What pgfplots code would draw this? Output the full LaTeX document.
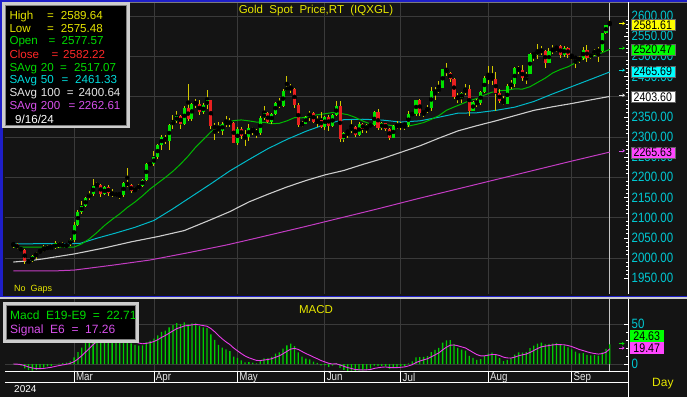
\documentclass[border=0pt]{standalone}
\usepackage{fontspec}
\setmainfont{Liberation Sans}
\newfontfamily\axisfont[FakeStretch=0.85]{Liberation Sans}
\usepackage{pgfplots}
\usepackage{pgfplotstable}
\pgfplotsset{compat=1.18}
\usetikzlibrary{arrows.meta}

\definecolor{bg}{RGB}{20,20,20}
\definecolor{gridc}{RGB}{58,58,58}
\definecolor{frameblue}{RGB}{30,30,200}
\definecolor{framegray}{RGB}{205,205,205}
\definecolor{cup}{RGB}{0,225,0}
\definecolor{cdn}{RGB}{232,32,32}
\definecolor{wick}{RGB}{210,200,0}
\definecolor{ma20}{RGB}{0,185,0}
\definecolor{ma50}{RGB}{0,185,200}
\definecolor{ma100}{RGB}{205,205,205}
\definecolor{ma200}{RGB}{195,60,195}
\definecolor{lblcyan}{RGB}{0,200,210}
\definecolor{txtyellow}{RGB}{230,230,0}
\definecolor{txtgreen}{RGB}{0,220,0}
\definecolor{txtred}{RGB}{255,40,40}
\definecolor{txtcyan}{RGB}{0,220,220}
\definecolor{txtgray}{RGB}{230,230,230}
\definecolor{txtmag}{RGB}{215,80,235}
\definecolor{macdgreen}{RGB}{0,205,0}
\definecolor{sigmag}{RGB}{235,60,235}
\definecolor{boxgreen}{RGB}{0,255,0}
\definecolor{boxcyan}{RGB}{0,255,255}
\definecolor{boxyellow}{RGB}{255,255,0}
\definecolor{boxmag}{RGB}{255,70,255}

\pgfplotstableread{
i O H L C
-16 2035 2040 2025 2034
-15 2034 2038 2022 2024
-14 2024 2027 2017 2020
-13 2020 2023 1984 1992
-12 1992 1996 1985 1992
-11 1992 2008 1990 2004
-10 2004 2016 1998 2013
-9 2013 2023 2012 2018
-8 2018 2031 2016 2024
-7 2024 2031 2019 2026
-6 2026 2035 2021 2024
-5 2024 2041 2022 2036
-4 2036 2039 2026 2031
-3 2031 2040 2025 2030
-2 2030 2036 2024 2034
-1 2034 2050 2030 2044
0 2044 2088 2040 2083
1 2083 2119 2079 2115
2 2115 2141 2110 2128
3 2128 2152 2126 2148
4 2148 2165 2144 2159
5 2159 2195 2154 2179
6 2179 2189 2175 2182
7 2182 2184 2150 2158
8 2158 2178 2156 2175
9 2175 2180 2154 2162
10 2162 2170 2150 2156
11 2156 2164 2150 2160
12 2160 2162 2146 2157
13 2157 2188 2152 2186
14 2186 2223 2175 2181
15 2181 2183 2160 2165
16 2165 2176 2164 2171
17 2171 2184 2169 2179
18 2179 2197 2175 2194
19 2194 2236 2191 2233
20 2233 2236 2230 2233
21 2233 2265 2229 2250
22 2250 2282 2245 2280
23 2280 2305 2268 2300
24 2300 2305 2282 2290
25 2290 2331 2268 2330
26 2330 2354 2320 2339
27 2339 2365 2335 2352
28 2352 2354 2319 2333
29 2333 2378 2329 2372
30 2372 2431 2340 2344
31 2344 2385 2340 2383
32 2383 2395 2373 2383
33 2383 2392 2354 2361
34 2361 2385 2356 2379
35 2379 2417 2370 2391
36 2391 2392 2320 2327
37 2327 2335 2292 2322
38 2322 2337 2310 2316
39 2316 2338 2305 2332
40 2332 2352 2325 2337
41 2337 2346 2325 2335
42 2335 2336 2285 2286
43 2286 2326 2280 2320
44 2320 2326 2295 2303
45 2303 2318 2278 2301
46 2301 2331 2290 2323
47 2323 2326 2304 2314
48 2314 2320 2297 2309
49 2309 2351 2306 2346
50 2346 2378 2343 2360
51 2360 2362 2334 2336
52 2336 2360 2333 2358
53 2358 2387 2355 2385
54 2385 2397 2373 2376
55 2376 2418 2375 2414
56 2414 2450 2413 2425
57 2425 2432 2409 2420
58 2420 2421 2373 2379
59 2379 2385 2326 2329
60 2329 2340 2325 2333
61 2333 2352 2332 2350
62 2350 2364 2340 2360
63 2360 2362 2334 2338
64 2338 2351 2324 2343
65 2343 2361 2322 2326
66 2326 2353 2317 2350
67 2350 2355 2315 2327
68 2327 2357 2325 2355
69 2355 2388 2353 2376
70 2376 2388 2287 2294
71 2294 2312 2287 2311
72 2311 2318 2298 2316
73 2316 2342 2311 2324
74 2324 2328 2301 2304
75 2304 2336 2302 2333
76 2333 2334 2311 2319
77 2319 2332 2310 2329
78 2329 2333 2325 2329
79 2329 2365 2327 2361
80 2361 2369 2317 2322
81 2322 2337 2318 2334
82 2334 2335 2316 2320
83 2320 2322 2293 2298
84 2298 2330 2298 2327
85 2327 2339 2319 2326
86 2326 2338 2318 2332
87 2332 2335 2317 2330
88 2330 2365 2326 2356
89 2356 2362 2352 2357
90 2357 2392 2353 2392
91 2392 2393 2353 2359
92 2359 2366 2350 2364
93 2364 2379 2359 2371
94 2371 2424 2365 2415
95 2415 2424 2392 2411
96 2411 2440 2409 2422
97 2422 2469 2421 2469
98 2469 2483 2450 2458
99 2458 2461 2437 2445
100 2445 2446 2393 2400
101 2400 2409 2384 2396
102 2396 2412 2385 2409
103 2409 2431 2404 2419
104 2419 2429 2353 2364
105 2364 2390 2364 2387
106 2387 2393 2375 2384
107 2384 2413 2380 2411
108 2411 2451 2409 2447
109 2447 2477 2431 2446
110 2446 2477 2430 2443
111 2443 2461 2364 2409
112 2409 2420 2384 2390
113 2390 2401 2380 2382
114 2382 2431 2381 2427
115 2427 2441 2418 2431
116 2431 2474 2425 2472
117 2472 2477 2456 2465
118 2465 2478 2440 2447
119 2447 2460 2431 2456
120 2456 2509 2455 2507
121 2507 2510 2489 2504
122 2504 2531 2494 2514
123 2514 2525 2504 2512
124 2512 2515 2470 2484
125 2484 2520 2483 2512
126 2512 2528 2505 2518
127 2518 2525 2510 2525
128 2525 2528 2497 2504
129 2504 2525 2499 2521
130 2521 2524 2497 2503
131 2503 2505 2490 2500
132 2500 2502 2471 2493
133 2493 2500 2484 2495
134 2495 2523 2492 2516
135 2516 2529 2486 2497
136 2497 2507 2494 2506
137 2506 2517 2500 2516
138 2516 2523 2486 2512
139 2512 2559 2511 2558
140 2558 2578 2555 2577
141 2577.57 2589.64 2575.48 2582.22
}\ohlc

\pgfplotstableread{
i v
-16 2027
0 2027
2 2035
4 2047.3
6 2063.1
8 2080.6
10 2095.6
12 2109.4
14 2125.2
16 2138.7
18 2154.1
20 2171.1
22 2185.4
24 2199.6
26 2215
28 2232.6
30 2252.5
32 2274.9
34 2293.6
36 2312.7
38 2325.9
40 2336
42 2340.6
44 2342.3
46 2340
48 2336.9
50 2336.4
52 2332.8
54 2333.9
56 2339.9
58 2348
60 2347.6
62 2352
64 2355
66 2357.6
68 2360.5
70 2358.7
72 2355.4
74 2348.7
76 2339.4
78 2332.3
80 2333.4
82 2330.6
84 2327.8
86 2326.9
88 2327
90 2331
92 2335.8
94 2343.7
96 2352.8
98 2366.2
100 2374.3
102 2381.9
104 2389.8
106 2395.4
108 2404
110 2411
112 2414.8
114 2416
116 2419.5
118 2418.7
120 2424.6
122 2435.3
124 2445.9
126 2458.9
128 2467.4
130 2474.2
132 2483.9
134 2494
136 2499
138 2504.8
140 2513.4
141 2517.1
}\smaA

\pgfplotstableread{
i v
-16 2035
1.5 2036
6 2049
11 2062
16 2076
21 2093
26 2122
31 2153
36 2184
41 2216
46 2244
51 2271
56 2294
61 2314
66 2331
71 2343
76 2344
81 2342
86 2337
91 2340
96 2349
101 2359
106 2360
111 2366
116 2374
121 2388
126 2407
131 2425
136 2443
141 2461.3
}\smaB

\pgfplotstableread{
i v
-16 1990
-12 1993
-8 1998
-4 2004
0 2010
8 2025
15 2040
22 2053
29 2068
36 2095
41 2115
46 2139
51 2158
56 2176
61 2192
66 2206
71 2217
76 2232
81 2246
86 2262
91 2278
96 2297
101 2315
106 2328
111 2340
116 2353
121 2366
126 2375
131 2383
136 2392
141 2400.6
}\smaC

\pgfplotstableread{
i v
-16 1968
-5 1968
0 1970
10 1982
20 1995
30 2013
40 2032
46 2045
60 2076
70 2099
80 2122
90 2146
100 2169
110 2192
120 2215
130 2238
141 2262.6
}\smaD

\pgfplotstableread{
i m s
-16 0.1 0.0
-15 -0.8 -0.2
-14 -1.9 -0.7
-13 -5.4 -2.1
-12 -7.8 -3.7
-11 -8.2 -5.0
-10 -7.4 -5.7
-9 -6.2 -5.8
-8 -4.6 -5.5
-7 -3.1 -4.8
-6 -2.2 -4.1
-5 -0.3 -3.0
-4 0.6 -2.0
-3 1.1 -1.1
-2 1.8 -0.3
-1 3.3 0.8
0 8.2 2.9
1 14.8 6.3
2 20.5 10.4
3 26.2 14.9
4 30.9 19.5
5 35.6 24.1
6 38.6 28.2
7 37.6 30.9
8 37.8 32.9
9 35.9 33.7
10 33.2 33.6
11 31.0 32.9
12 28.5 31.6
13 29.1 30.9
14 28.4 30.2
15 25.7 28.9
16 23.9 27.5
17 22.9 26.2
18 23.2 25.3
19 26.9 25.8
20 29.0 26.7
21 31.7 28.1
22 35.9 30.3
23 40.3 33.2
24 41.6 35.6
25 45.8 38.5
26 48.7 41.4
27 51.1 44.2
28 49.9 45.8
29 51.9 47.6
30 49.6 48.1
31 50.9 48.9
32 50.8 49.5
33 47.5 48.9
34 45.9 48.0
35 45.0 47.2
36 37.1 44.3
37 30.2 40.3
38 24.0 35.6
39 20.6 31.3
40 18.3 27.6
41 16.1 24.3
42 9.3 20.0
43 7.6 16.5
44 4.6 13.1
45 2.1 10.0
46 2.4 7.8
47 1.7 6.1
48 0.7 4.5
49 3.6 4.3
50 7.0 5.0
51 7.0 5.6
52 9.0 6.6
53 12.9 8.4
54 14.6 10.2
55 19.3 12.8
56 23.4 15.8
57 25.4 18.6
58 22.3 19.6
59 14.6 18.2
60 9.2 15.6
61 6.8 13.1
62 5.9 11.0
63 3.0 8.7
64 1.3 6.6
65 -1.6 4.3
66 -1.4 2.6
67 -3.5 0.9
68 -2.1 0.0
69 1.1 0.3
70 -4.9 -1.2
71 -7.3 -2.9
72 -8.5 -4.5
73 -8.3 -5.6
74 -10.0 -6.9
75 -8.2 -7.2
76 -8.1 -7.5
77 -6.9 -7.3
78 -5.9 -6.9
79 -1.9 -5.5
80 -2.8 -4.7
81 -2.2 -4.0
82 -3.1 -3.7
83 -6.0 -4.4
84 -5.0 -4.6
85 -4.3 -4.5
86 -3.1 -4.1
87 -2.4 -3.6
88 0.8 -2.4
89 3.2 -0.8
90 8.3 1.8
91 8.5 3.7
92 9.0 5.2
93 9.9 6.6
94 14.8 8.9
95 17.6 11.4
96 20.3 13.9
97 26.6 17.6
98 29.5 21.0
99 29.7 23.5
100 24.7 23.8
101 20.2 22.8
102 17.9 21.4
103 16.8 20.1
104 10.2 17.3
105 7.6 14.5
106 5.2 11.8
107 6.1 10.2
108 10.2 10.2
109 12.9 11.0
110 14.2 11.9
111 11.5 11.8
112 7.5 10.6
113 3.6 8.6
114 5.2 7.6
115 6.7 7.4
116 11.7 8.6
117 14.4 10.3
118 14.3 11.4
119 14.7 12.4
120 19.9 14.5
121 22.9 16.9
122 25.6 19.4
123 26.8 21.5
124 24.4 22.3
125 25.0 23.1
126 25.5 23.8
127 26.0 24.4
128 23.8 24.2
129 23.4 24.0
130 20.9 23.1
131 18.4 21.8
132 15.5 20.0
133 13.3 18.1
134 13.5 16.8
135 11.5 15.3
136 10.8 14.0
137 11.0 13.1
138 10.5 12.4
139 14.5 13.0
140 19.0 14.7
141 24.6 19.0
}\macd

\newcommand{\lf}{\fontsize{11.6}{13}\selectfont}
\newcommand{\af}{\axisfont\fontsize{13.5}{14}\selectfont}
\newcommand{\bxf}{\axisfont\fontsize{12.5}{13}\selectfont}
\newcommand{\mf}{\axisfont\fontsize{11.5}{12}\selectfont}

\tikzset{
  vbox/.style={draw=black!60, line width=0.3pt, inner sep=0pt, minimum width=44pt, minimum height=11pt,
        anchor=west, font=\bxf, text=black, yshift=-1.5pt},
  mbox/.style={inner sep=0pt, minimum width=34pt, minimum height=11.5pt, anchor=west, font=\bxf, text=black},
  varrow/.style={line width=0.7pt, -{Stealth[length=2.6pt,width=3.4pt]}},
  mlab/.style={anchor=north west, inner sep=0pt, font=\mf, text=txtgray},
}

\pgfplotsset{
  chartbase/.style={
    scale only axis, anchor=south west, width=623pt,
    xmin=-18.2, xmax=145.8,
    axis line style={draw=none},
    xtick={0,21,43,66,86,109,131}, xticklabels={}, xtick style={draw=none},
    xmajorgrids, grid style={gridc, line width=0.8pt},
    ytick pos=right, yticklabel pos=right,
    tick align=inside, major tick length=4.5pt, minor tick length=2.5pt,
    tick style={white, line width=0.6pt},
    yticklabel style={font=\af, text=lblcyan, anchor=west, inner sep=0pt, xshift=3.5pt,
      /pgf/number format/assume math mode=true},
    clip mode=individual,
  },
}

\begin{document}
\begin{tikzpicture}
\fill[bg] (0pt,0pt) rectangle (687pt,397pt);

% ---------- price panel ----------
\begin{axis}[chartbase,
  at={(5pt,103pt)}, height=292pt,
  ymin=1910.7, ymax=2634.7,
  ytick={1950,2000,...,2600}, minor y tick num=4,
  yticklabel style={/pgf/number format/fixed, /pgf/number format/fixed zerofill,
    /pgf/number format/precision=2, /pgf/number format/1000 sep={}},
  extra y ticks={2000,2100,2200,2300,2400,2500,2600},
  extra y tick labels={,,,,,,},
  extra y tick style={grid=major, major tick length=0pt},
]
\addplot[white!78!black, line width=0.8pt, forget plot] coordinates {(140.85,1910.7) (140.85,2634.7)};
\addplot[ma200, line width=1pt] table[x=i,y=v] {\smaD};
\addplot[ma100, line width=1.1pt] table[x=i,y=v] {\smaC};
\addplot[ma50, line width=1pt] table[x=i,y=v] {\smaB};
\addplot[ma20, line width=1pt] table[x=i,y=v] {\smaA};
% wicks
\addplot[only marks, mark=none, forget plot,
  error bars/.cd, y dir=both, y explicit, error mark=none,
  error bar style={draw=wick, line width=1pt}]
  table[x=i, y expr=(\thisrow{H}+\thisrow{L})/2, y error expr=(\thisrow{H}-\thisrow{L})/2] {\ohlc};
% up bodies
\addplot[only marks, mark=none, forget plot,
  restrict expr to domain={\thisrow{C}-\thisrow{O}}{0:1000},
  error bars/.cd, y dir=both, y explicit, error mark=none,
  error bar style={draw=cup, line width=3.1pt}]
  table[x=i, y expr=(\thisrow{O}+\thisrow{C})/2, y error expr={max(abs(\thisrow{C}-\thisrow{O})/2,1.2)}] {\ohlc};
% down bodies
\addplot[only marks, mark=none, forget plot,
  restrict expr to domain={\thisrow{O}-\thisrow{C}}{0.001:1000},
  error bars/.cd, y dir=both, y explicit, error mark=none,
  error bar style={draw=cdn, line width=3.1pt}]
  table[x=i, y expr=(\thisrow{O}+\thisrow{C})/2, y error expr={max(abs(\thisrow{C}-\thisrow{O})/2,1.2)}] {\ohlc};

\node[vbox, fill=boxyellow] at (axis cs:146.5,2581.61) {2581.61};
\node[vbox, fill=boxgreen] at (axis cs:146.5,2520.47) {2520.47};
\node[vbox, fill=boxcyan] at (axis cs:146.5,2465.69) {2465.69};
\node[vbox, fill=white] at (axis cs:146.5,2403.60) {2403.60};
\node[vbox, fill=boxmag] at (axis cs:146.5,2265.63) {2265.63};
\draw[varrow, boxyellow] (axis cs:143.4,2581.61) -- (axis cs:145.0,2581.61);
\draw[varrow, txtgreen] (axis cs:143.4,2520.47) -- (axis cs:145.0,2520.47);
\draw[varrow, txtcyan] (axis cs:143.4,2465.69) -- (axis cs:145.0,2465.69);
\draw[varrow, txtgray] (axis cs:143.4,2403.60) -- (axis cs:145.0,2403.60);
\draw[varrow, txtmag] (axis cs:143.4,2265.63) -- (axis cs:145.0,2265.63);
\end{axis}

% ---------- MACD panel ----------
\begin{axis}[chartbase,
  at={(5pt,26pt)}, height=72pt,
  ymin=-8.75, ymax=81.25,
  ytick={0,50}, minor y tick num=4, ymajorgrids,
]
\addplot[white!78!black, line width=0.8pt, forget plot] coordinates {(140.85,-8.75) (140.85,81.25)};
\addplot[ybar, bar width=1.3pt, fill=macdgreen, draw=none, forget plot] table[x=i,y=m] {\macd};
\addplot[sigmag, line width=0.9pt] table[x=i,y=s] {\macd};
\node[mbox, fill=boxgreen] at (axis cs:146.2,35) {24.63};
\node[mbox, fill=boxmag] at (axis cs:146.2,20.2) {19.47};
\draw[varrow, txtgreen] (axis cs:143.3,25.5) -- (axis cs:144.9,25.5);
\draw[varrow, sigmag] (axis cs:143.3,20) -- (axis cs:144.9,20);
\end{axis}

% ---------- date strip ----------
\begin{axis}[scale only axis, anchor=south west, at={(5pt,15pt)}, width=623pt, height=11pt,
  xmin=-18.2, xmax=145.8, ymin=0, ymax=1,
  separate axis lines, x axis line style={white, line width=0.8pt}, y axis line style={draw=none},
  xtick={0,21,43,66,86,109,131}, xticklabels={}, xtick style={draw=none}, ytick=\empty,
  xmajorgrids, grid style={white, line width=0.8pt},
]
\node[mlab] at (axis cs:0.45,0.86) {Mar};
\node[mlab] at (axis cs:21.45,0.86) {Apr};
\node[mlab] at (axis cs:43.45,0.86) {May};
\node[mlab] at (axis cs:66.45,0.86) {Jun};
\node[mlab] at (axis cs:86.45,0.86) {Jul};
\node[mlab] at (axis cs:109.45,0.86) {Aug};
\node[mlab] at (axis cs:131.45,0.86) {Sep};
\end{axis}

\begin{scope}[x=1pt,y=1pt]
% ---------- frames ----------
\fill[frameblue] (0,395.3) rectangle (687,397);
\fill[framegray!60!black] (0,394.6) rectangle (687,395.3);
\fill[frameblue] (0,100) rectangle (2.6,397);
\fill[frameblue] (0,100) rectangle (687,101.4);
\fill[framegray] (0,98) rectangle (687,100);
\draw[white, line width=0.8pt] (628,103) -- (628,394.6);
\draw[white, line width=0.8pt] (628.7,0) -- (628.7,98);

% ---------- texts ----------
\node[anchor=base, inner sep=0pt, font=\fontsize{11.5}{12}\selectfont, text=txtyellow] at (316,383) {Gold\ \ Spot\ \ Price,RT\ \ (IQXGL)};
\node[anchor=base west, inner sep=0pt, font=\fontsize{9}{10}\selectfont, text=txtyellow] at (14,106) {No\ \ Gaps};
\node[anchor=base, inner sep=0pt, font=\fontsize{11.5}{12}\selectfont, text=txtyellow] at (316,83.7) {MACD};
\node[anchor=base west, inner sep=0pt, font=\fontsize{12}{13}\selectfont, text=txtyellow] at (652,11) {Day};
\node[anchor=base west, inner sep=0pt, font=\fontsize{10}{11}\selectfont, text=white] at (14,4.3) {2024};

% main legend
\draw[fill=black, draw=framegray, line width=2.4pt] (3.5,270) rectangle (128.5,393.5);
\draw[draw=white!50!black, line width=0.5pt] (5.3,271.8) rectangle (126.7,391.7);
\begin{scope}[every node/.style={anchor=base west, inner sep=0pt, font=\lf}]
\node[text=txtyellow] at (9.3,377) {High}; \node[text=txtyellow] at (47,377) {=}; \node[text=txtyellow] at (60.7,377) {2589.64};
\node[text=txtyellow] at (9.3,364.7) {Low}; \node[text=txtyellow] at (47,364.7) {=}; \node[text=txtyellow] at (60.7,364.7) {2575.48};
\node[text=txtgreen] at (9.3,352) {Open}; \node[text=txtgreen] at (48.5,352) {=}; \node[text=txtgreen] at (61.5,352) {2577.57};
\node[text=txtred] at (9.3,338.7) {Close}; \node[text=txtred] at (51.5,338.7) {=}; \node[text=txtred] at (63,338.7) {2582.22};
\node[text=txtgreen] at (9.3,325.3) {SAvg}; \node[text=txtgreen] at (40.7,325.3) {20}; \node[text=txtgreen] at (60,325.3) {=}; \node[text=txtgreen] at (74,325.3) {2517.07};
\node[text=txtcyan] at (9.3,313) {SAvg}; \node[text=txtcyan] at (40.7,313) {50}; \node[text=txtcyan] at (61.5,313) {=}; \node[text=txtcyan] at (75,313) {2461.33};
\node[text=txtgray] at (9.3,300.3) {SAvg}; \node[text=txtgray] at (40.7,300.3) {100}; \node[text=txtgray] at (66.7,300.3) {=}; \node[text=txtgray] at (78.3,300.3) {2400.64};
\node[text=txtmag] at (9.3,287.7) {SAvg}; \node[text=txtmag] at (40.7,287.7) {200}; \node[text=txtmag] at (68.3,287.7) {=}; \node[text=txtmag] at (78.3,287.7) {2262.61};
\node[text=white] at (15,273.7) {9/16/24};
\end{scope}

% MACD legend
\draw[fill=black, draw=framegray, line width=2.4pt] (4.5,55.5) rectangle (137.5,93.5);
\draw[draw=white!50!black, line width=0.5pt] (6.3,57.3) rectangle (135.7,91.7);
\node[anchor=base west, inner sep=0pt, font=\fontsize{12}{13}\selectfont, text=txtgreen] at (10,77.7) {Macd\ \ E19-E9\ \ =\ \ 22.71};
\node[anchor=base west, inner sep=0pt, font=\fontsize{12}{13}\selectfont, text=txtmag] at (10,63.7) {Signal\ \ E6\ \ =\ \ 17.26};
\end{scope}

\pgfresetboundingbox
\useasboundingbox (0pt,0pt) rectangle (687pt,397pt);
\end{tikzpicture}
\end{document}
